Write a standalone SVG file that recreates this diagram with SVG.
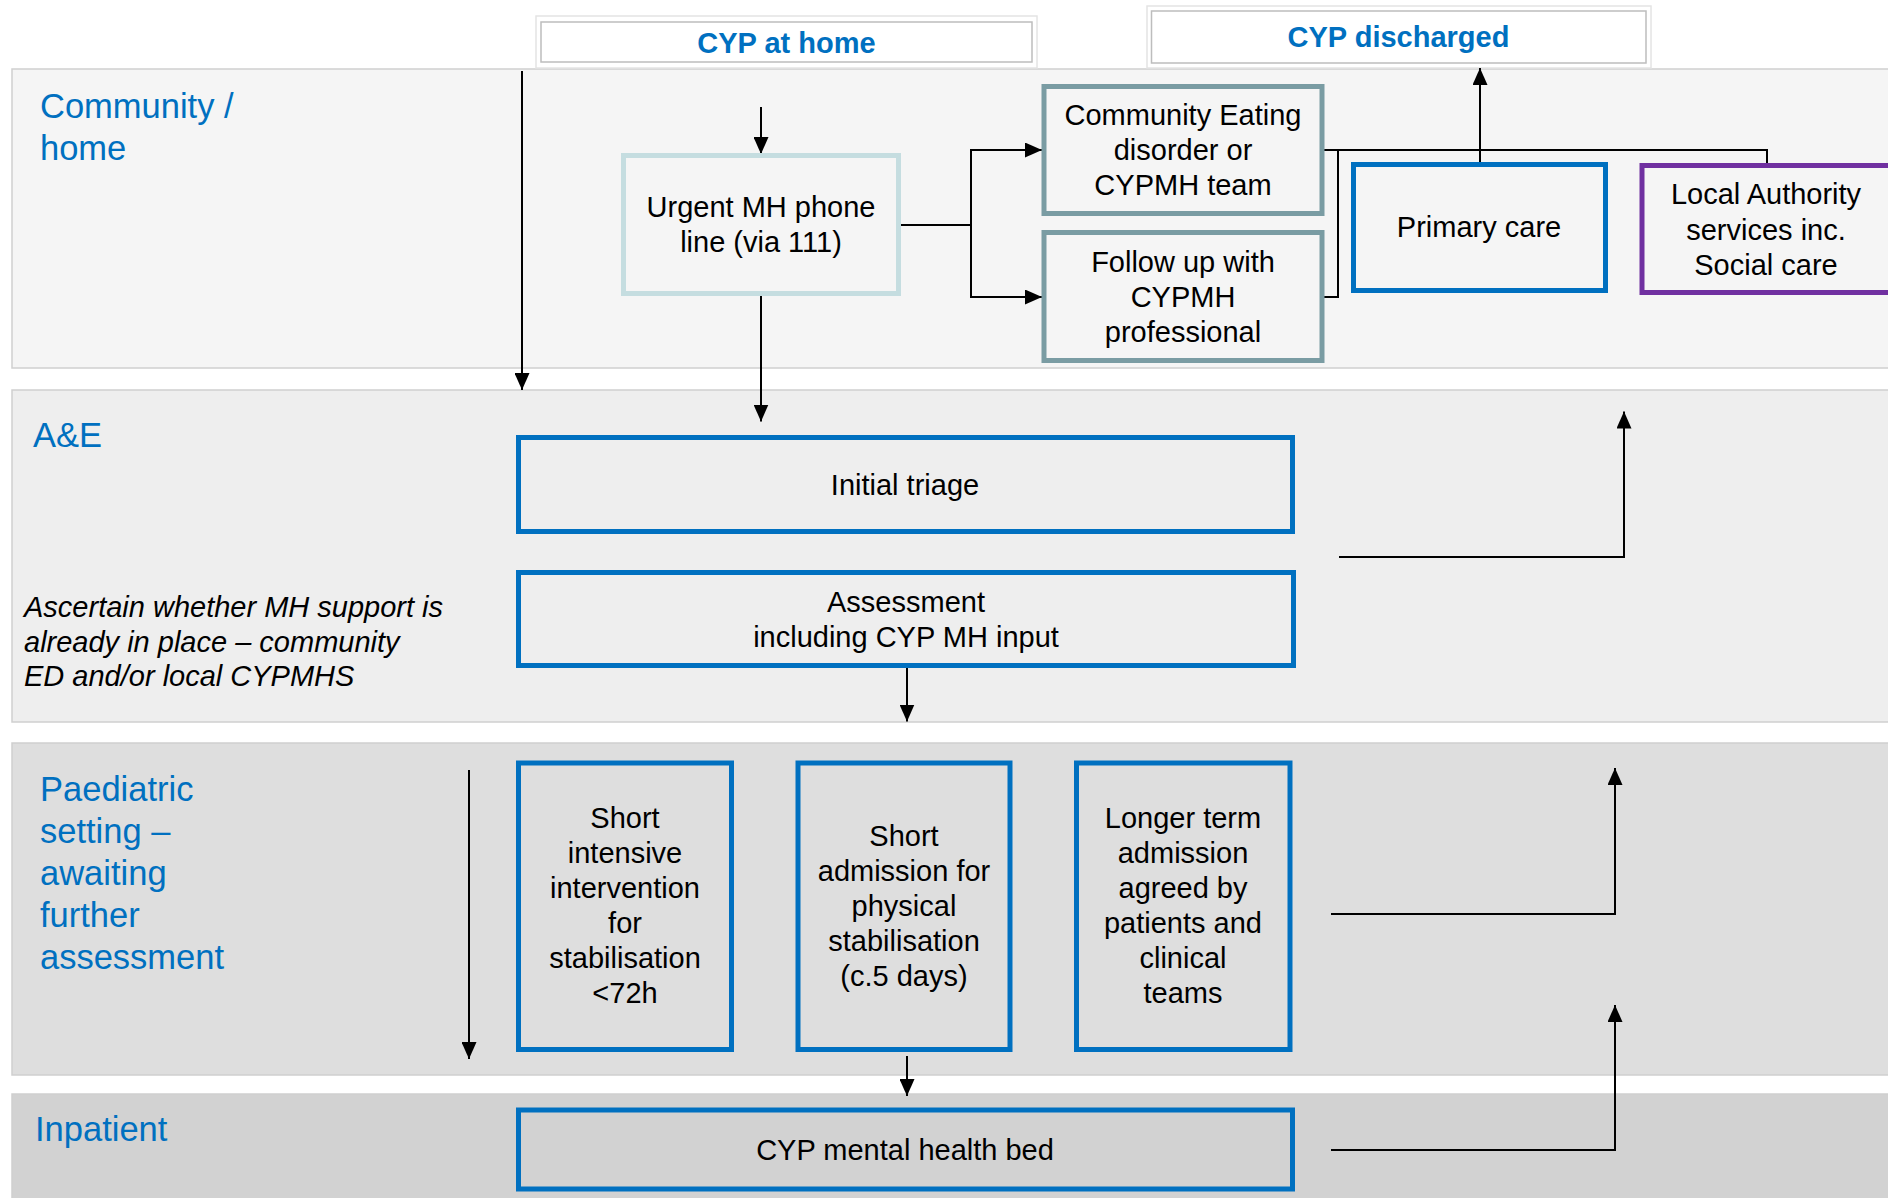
<svg xmlns="http://www.w3.org/2000/svg" width="1888" height="1198" viewBox="0 0 1888 1198">
<defs>
<marker id="ah" markerUnits="userSpaceOnUse" markerWidth="17" markerHeight="15" refX="17" refY="7.5" orient="auto">
<path d="M0,0 L17,7.5 L0,15 z" fill="#000"/>
</marker>
<style>
.band{stroke:#cfcfcf;stroke-width:1.5}
.lbl{font-family:"Liberation Sans",Arial,sans-serif;font-size:34.5px;fill:#0070c0}
.hdr{font-family:"Liberation Sans",Arial,sans-serif;font-size:29px;font-weight:bold;fill:#0070c0;text-anchor:middle}
.t{font-family:"Liberation Sans",Arial,sans-serif;font-size:29px;fill:#000;text-anchor:middle}
.it{font-family:"Liberation Sans",Arial,sans-serif;font-size:29px;font-style:italic;fill:#000}
.blue{fill:none;stroke:#0070c0;stroke-width:5}
.teal{fill:none;stroke:#7a9ca3;stroke-width:5}
.lteal{fill:none;stroke:#c5dde0;stroke-width:5}
.purple{fill:none;stroke:#7030a0;stroke-width:5}
.c{fill:none;stroke:#000;stroke-width:2}
.ca{fill:none;stroke:#000;stroke-width:2;marker-end:url(#ah)}
.hout{fill:#fff;stroke:#e4e4e4;stroke-width:1.5}
.hin{fill:#fff;stroke:#bdbdbd;stroke-width:1.5}
</style>
</defs>
<rect width="1888" height="1198" fill="#fff"/>
<g id="bands">
<rect class="band" x="12" y="69" width="1890" height="299" fill="#f5f5f5"/>
<rect class="band" x="12" y="390" width="1890" height="332" fill="#eeeeee"/>
<rect class="band" x="12" y="743" width="1890" height="332" fill="#dedede"/>
<rect class="band" x="12" y="1094" width="1890" height="120" fill="#d2d2d2"/>
<text class="lbl" x="40" y="118">Community /</text>
<text class="lbl" x="40" y="160">home</text>
<text class="lbl" x="33" y="447">A&amp;E</text>
<text class="lbl" x="40" y="801">Paediatric</text>
<text class="lbl" x="40" y="843">setting –</text>
<text class="lbl" x="40" y="885">awaiting</text>
<text class="lbl" x="40" y="927">further</text>
<text class="lbl" x="40" y="969">assessment</text>
<text class="lbl" x="35" y="1141">Inpatient</text>
<text class="it" x="24" y="617">Ascertain whether MH support is</text>
<text class="it" x="24" y="652">already in place – community</text>
<text class="it" x="24" y="686">ED and/or local CYPMHS</text>
</g>
<g id="hdr-home">
<rect class="hout" x="536" y="16" width="501" height="52"/>
<rect class="hin" x="541" y="22" width="491" height="40"/>
<text class="hdr" x="786.5" y="53">CYP at home</text>
</g>
<g id="hdr-discharged">
<rect class="hout" x="1147" y="6" width="504" height="62"/>
<rect class="hin" x="1151.5" y="11" width="494.5" height="52"/>
<text class="hdr" x="1398.5" y="47">CYP discharged</text>
</g>
<g id="connectors">
<path class="ca" d="M522,71 V390"/>
<path class="ca" d="M761,107 V154"/>
<path class="ca" d="M761,296 V421.5"/>
<path class="c" d="M901,225 H971"/>
<path class="ca" d="M971,297 V150 H1042"/>
<path class="ca" d="M971,225 V297 H1042"/>
<path class="c" d="M1324,150 H1767 V164"/>
<path class="c" d="M1324,297 H1338 V150"/>
<path class="ca" d="M1480,162 V68"/>
<path class="ca" d="M1339,557 H1624 V411.5"/>
<path class="ca" d="M907,668 V721.5"/>
<path class="ca" d="M469,770 V1059"/>
<path class="ca" d="M907,1056 V1096"/>
<path class="ca" d="M1331,914 H1615 V768"/>
<path class="ca" d="M1331,1150 H1615 V1005"/>
</g>
<g id="urgent">
<rect class="lteal" x="623.5" y="155.5" width="275" height="138"/>
<text class="t" x="761" y="217">Urgent MH phone</text>
<text class="t" x="761" y="252">line (via 111)</text>
</g>
<g id="community-eating">
<rect class="teal" x="1044" y="86.5" width="278" height="127"/>
<text class="t" x="1183" y="125">Community Eating</text>
<text class="t" x="1183" y="160">disorder or</text>
<text class="t" x="1183" y="195">CYPMH team</text>
</g>
<g id="follow-up">
<rect class="teal" x="1044" y="232.5" width="278" height="128"/>
<text class="t" x="1183" y="272">Follow up with</text>
<text class="t" x="1183" y="307">CYPMH</text>
<text class="t" x="1183" y="342">professional</text>
</g>
<g id="primary-care">
<rect class="blue" x="1353.5" y="164.5" width="252" height="126"/>
<text class="t" x="1479" y="237">Primary care</text>
</g>
<g id="local-authority">
<rect class="purple" x="1642" y="165.5" width="260" height="127"/>
<text class="t" x="1766" y="204">Local Authority</text>
<text class="t" x="1766" y="239.5">services inc.</text>
<text class="t" x="1766" y="275">Social care</text>
</g>
<g id="triage">
<rect class="blue" x="518.5" y="437.5" width="774" height="94"/>
<text class="t" x="905" y="495">Initial triage</text>
</g>
<g id="assessment">
<rect class="blue" x="518.5" y="572.5" width="775" height="93"/>
<text class="t" x="906" y="612">Assessment</text>
<text class="t" x="906" y="647">including CYP MH input</text>
</g>
<g id="short-intensive">
<rect class="blue" x="518.5" y="763" width="213" height="286.5"/>
<text class="t" x="625" y="828">Short</text>
<text class="t" x="625" y="863">intensive</text>
<text class="t" x="625" y="898">intervention</text>
<text class="t" x="625" y="933">for</text>
<text class="t" x="625" y="968">stabilisation</text>
<text class="t" x="625" y="1003">&lt;72h</text>
</g>
<g id="short-admission">
<rect class="blue" x="798" y="763" width="212" height="286.5"/>
<text class="t" x="904" y="846">Short</text>
<text class="t" x="904" y="881">admission for</text>
<text class="t" x="904" y="916">physical</text>
<text class="t" x="904" y="951">stabilisation</text>
<text class="t" x="904" y="986">(c.5 days)</text>
</g>
<g id="longer-term">
<rect class="blue" x="1076.5" y="763" width="213.5" height="286.5"/>
<text class="t" x="1183" y="828">Longer term</text>
<text class="t" x="1183" y="863">admission</text>
<text class="t" x="1183" y="898">agreed by</text>
<text class="t" x="1183" y="933">patients and</text>
<text class="t" x="1183" y="968">clinical</text>
<text class="t" x="1183" y="1003">teams</text>
</g>
<g id="mh-bed">
<rect class="blue" x="518.5" y="1110" width="774" height="79"/>
<text class="t" x="905" y="1160">CYP mental health bed</text>
</g>
</svg>
